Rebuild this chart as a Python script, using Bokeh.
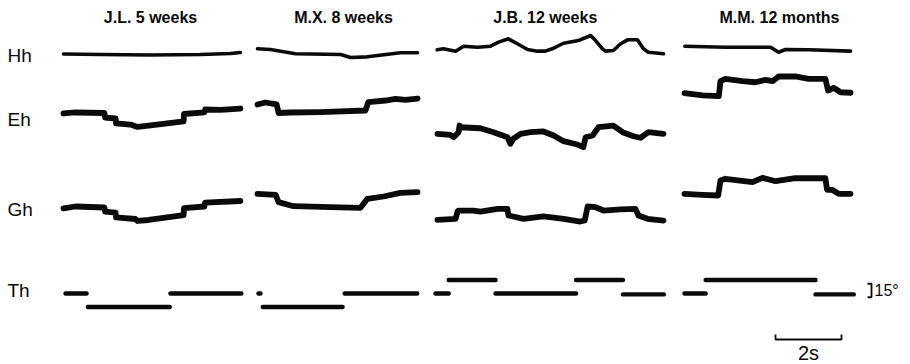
import numpy as np
from bokeh.plotting import figure
from bokeh.models import Range1d
from bokeh.embed import file_html
from bokeh.resources import INLINE
from bokeh.core.properties import value

# ---------------- data: time (s) and angle (deg, up = positive, relative to row baseline)
titles = ["J.L. 5 weeks", "M.X. 8 weeks", "J.B.  12 weeks", "M.M. 12 months"]
rows = ["Hh", "Eh", "Gh", "Th"]

# J.L. 5 weeks
jl_hh_t = [0, 1.12, 2.64, 4.15, 5.06, 5.36]
jl_hh_a = [-0.6, -1.1, -1.7, -1.1, 0.0, 1.1]
jl_eh_t = [0, 0.36, 1.24, 1.26, 1.58, 1.59, 2.03, 2.24, 2.58, 3.64, 3.65, 4.27, 4.29, 4.76, 5.36]
jl_eh_a = [-3.3, -2.2, -2.8, -7.8, -8.9, -14.4, -15.6, -18.3, -16.7, -12.2, -3.9, -2.2, 1.1, 0.6, 2.2]
jl_gh_t = [0, 0.36, 1.24, 1.26, 1.58, 1.59, 2.18, 2.24, 2.58, 3.64, 3.65, 4.27, 4.29, 5.36]
jl_gh_a = [-3.3, -1.1, -2.2, -6.7, -7.8, -13.3, -15.0, -17.2, -16.1, -10.6, -2.8, -1.1, 3.3, 5.0]
jl_th_start = [0.06, 0.74, 3.24]
jl_th_end = [0.70, 3.22, 5.39]
jl_th_a = [0, -15, 0]

# M.X. 8 weeks
mx_hh_t = [0, 0.39, 1.15, 2.52, 2.82, 3.33, 4.33, 4.85]
mx_hh_a = [5.2, 4.4, -0.3, -1.1, -4.4, -3.7, 0.8, 0.8]
mx_eh_t = [0, 0.24, 0.58, 0.64, 1.0, 1.91, 3.27, 3.36, 3.88, 4.18, 4.48, 4.85]
mx_eh_a = [6.7, 8.9, 6.7, -2.8, -2.2, -1.7, 0.0, 9.4, 11.1, 12.8, 11.7, 13.3]
mx_gh_t = [0, 0.55, 0.64, 1.09, 2.21, 3.12, 3.33, 3.82, 4.33, 4.85]
mx_gh_a = [13.0, 11.9, 3.7, -0.8, -1.7, -2.6, 7.4, 10.0, 14.1, 14.8]
mx_th_start = [0.03, 0.16, 2.64]
mx_th_end = [0.09, 2.58, 4.84]
mx_th_a = [0, -15, 0]

# J.B. 12 weeks
jb_hh_t = [0.05, 0.24, 0.61, 0.85, 1.27, 1.67, 1.91, 2.21, 2.48, 2.79, 3.09, 3.33, 3.58,
           3.88, 4.33, 4.70, 4.85, 5.06, 5.15, 5.39, 5.61, 5.82, 6.12, 6.30, 6.45, 6.91]
jb_hh_a = [4.1, 5.2, 2.6, 8.1, 7.0, 8.1, 12.6, 16.3, 10.8, 4.4, 2.6, 2.6, 5.9,
           11.4, 14.4, 20.0, 14.4, 5.2, 2.6, 3.3, 10.8, 15.2, 15.2, 5.2, 1.4, -0.3]
jb_eh_t = [0.06, 0.45, 0.55, 0.70, 0.73, 0.76, 1.36, 1.76, 2.18, 2.27, 2.36, 2.58, 2.88, 3.27,
           3.58, 3.88, 4.30, 4.48, 4.55, 4.76, 4.94, 5.39, 5.67, 6.00, 6.21, 6.45, 6.91]
jb_eh_a = [-25.9, -27.0, -29.7, -24.1, -16.7, -18.6, -19.7, -24.1, -29.7, -37.0, -31.4, -25.9, -24.1, -23.3,
           -27.8, -34.1, -37.8, -40.8, -29.7, -27.8, -18.6, -16.7, -24.1, -28.6, -30.3, -24.1, -25.9]
jb_gh_t = [0.06, 0.61, 0.67, 0.70, 1.15, 1.36, 1.88, 2.18, 2.21, 2.67, 3.27, 3.88, 4.39, 4.52,
           4.61, 4.85, 5.09, 5.61, 6.06, 6.15, 6.42, 6.91]
jb_gh_a = [-15.9, -14.8, -6.3, -5.6, -5.6, -6.7, -3.7, -3.7, -11.1, -14.8, -12.2, -14.8, -17.8, -16.7,
           -1.1, -1.9, -5.6, -4.4, -3.7, -11.1, -14.8, -16.7]
jb_th_start = [0.0, 0.40, 1.82, 4.26, 5.68]
jb_th_end = [0.40, 1.82, 4.26, 5.68, 6.92]
jb_th_a = [0, 15, 0, 15, -1]

# M.M. 12 months
mm_hh_t = [0.01, 1.24, 2.61, 2.85, 3.06, 3.76, 5.03]
mm_hh_a = [8.1, 7.0, 7.0, 1.4, 4.4, 4.1, 2.6]
mm_eh_t = [0, 0.55, 1.04, 1.09, 1.24, 1.76, 2.15, 2.45, 2.67, 2.85, 3.36, 3.76, 4.27, 4.35, 4.52, 4.73, 5.03]
mm_eh_a = [19.2, 16.7, 15.9, 32.6, 35.2, 32.6, 31.4, 34.1, 32.6, 37.8, 37.8, 35.2, 35.2, 22.2, 25.2, 20.3, 19.7]
mm_gh_t = [0, 0.55, 1.02, 1.09, 1.24, 2.06, 2.36, 2.76, 3.36, 4.27, 4.32, 4.47, 4.67, 5.03]
mm_gh_a = [13.0, 11.9, 11.1, 27.8, 29.7, 25.9, 30.8, 27.0, 30.3, 30.3, 17.4, 17.4, 13.0, 13.0]
mm_th_start = [0.0, 0.64, 3.97]
mm_th_end = [0.64, 3.97, 5.13]
mm_th_a = [0, 15, -1]

scale_time_s = 2       # time calibration bar
scale_angle_deg = 15   # angle calibration bracket

# ---------------- layout (pixels) and scales
W, H = 910, 364
PX_PER_S = 33.0
PX_PER_DEG = 0.9
panel_x0_px = [63, 257, 435, 684]
row_base_px = [53, 110, 205, 293]
title_cx_px = [150, 343, 547, 779]
title_y_px = 17
label_x_px = 7
label_y_px = [55, 119, 209, 290]


def X(px):
    return px / PX_PER_S


def Y(py):
    return -py / PX_PER_DEG


panels = [
    dict(hh=(jl_hh_t, jl_hh_a), eh=(jl_eh_t, jl_eh_a), gh=(jl_gh_t, jl_gh_a),
         th=(jl_th_start, jl_th_end, jl_th_a)),
    dict(hh=(mx_hh_t, mx_hh_a), eh=(mx_eh_t, mx_eh_a), gh=(mx_gh_t, mx_gh_a),
         th=(mx_th_start, mx_th_end, mx_th_a)),
    dict(hh=(jb_hh_t, jb_hh_a), eh=(jb_eh_t, jb_eh_a), gh=(jb_gh_t, jb_gh_a),
         th=(jb_th_start, jb_th_end, jb_th_a)),
    dict(hh=(mm_hh_t, mm_hh_a), eh=(mm_eh_t, mm_eh_a), gh=(mm_gh_t, mm_gh_a),
         th=(mm_th_start, mm_th_end, mm_th_a)),
]

p = figure(width=W, height=H, x_range=Range1d(0, X(W)), y_range=Range1d(Y(H), 0),
           output_backend="svg", toolbar_location=None, x_axis_type=None, y_axis_type=None,
           min_border=0, min_border_left=0, min_border_right=0, min_border_top=0,
           min_border_bottom=0)
p.grid.visible = False
p.outline_line_color = None
p.background_fill_color = "white"
p.border_fill_color = "white"

INK = "#0a0a0a"
widths = {"hh": 3.6, "eh": 5.8, "gh": 5.8}
for i, pan in enumerate(panels):
    x0 = X(panel_x0_px[i])
    for key, r in (("hh", 0), ("eh", 1), ("gh", 2)):
        t, a = pan[key]
        p.line(x0 + np.array(t), Y(row_base_px[r]) + np.array(a), line_color=INK,
               line_width=widths[key], line_join="round", line_cap="round")
    ts, te, ta = pan["th"]
    yb = Y(row_base_px[3])
    p.segment(x0=list(x0 + np.array(ts)), x1=list(x0 + np.array(te)),
              y0=list(yb + np.array(ta)), y1=list(yb + np.array(ta)),
              line_color=INK, line_width=4.4, line_cap="round")

FONT = value("Liberation Sans")
# titles
p.text(x=[X(v) for v in title_cx_px], y=[Y(title_y_px)] * 4, text=titles,
       text_font=FONT, text_font_size="16px", text_font_style="bold", text_align="center",
       text_baseline="middle", text_color=INK)
# row labels
p.text(x=[X(label_x_px)] * 4, y=[Y(v) for v in label_y_px], text=rows,
       text_font=FONT, text_font_size="19px", text_align="left",
       text_baseline="middle", text_color=INK)

# angle calibration bracket "]15°"
bx0, bx1, bcy = X(867), X(871), Y(290)
half = scale_angle_deg / 2
p.line([bx0, bx1, bx1, bx0], [bcy + half, bcy + half, bcy - half, bcy - half],
       line_color=INK, line_width=1.8)
p.text(x=[X(874)], y=[bcy], text=[f"{scale_angle_deg}°"], text_font=FONT,
       text_font_size="16px", text_align="left", text_baseline="middle", text_color=INK)

# time calibration bar "2s"
sx0, sy = X(775), Y(339)
tick = 5 / PX_PER_DEG
p.line([sx0, sx0, sx0 + scale_time_s, sx0 + scale_time_s], [sy + tick, sy, sy, sy + tick],
       line_color=INK, line_width=1.8)
p.text(x=[sx0 + scale_time_s / 2], y=[Y(352)], text=[f"{scale_time_s}s"], text_font=FONT,
       text_font_size="20px", text_align="center", text_baseline="middle", text_color=INK)

open("out.html", "w").write(file_html(p, INLINE))
